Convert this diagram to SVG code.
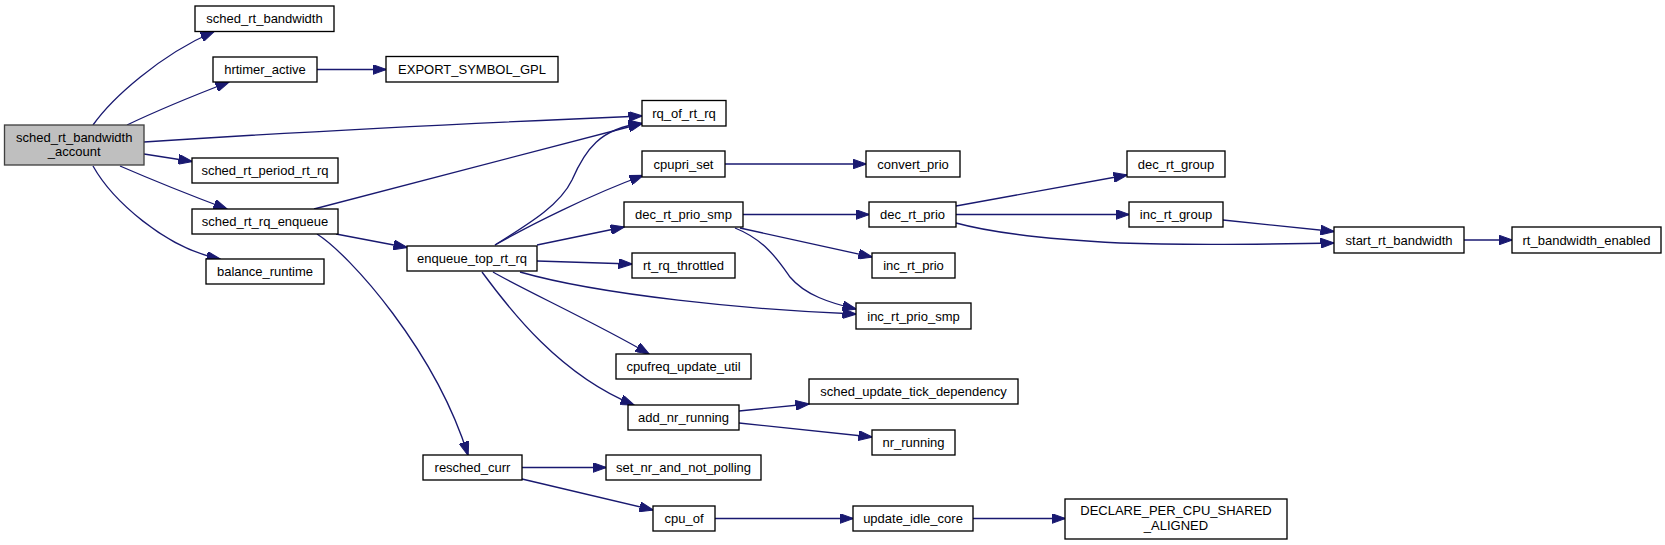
<svg xmlns="http://www.w3.org/2000/svg" width="1665" height="545" viewBox="0 0 1665 545">
<style>
.n rect{fill:#ffffff;stroke:#000000;stroke-width:1.33}
.root rect{fill:#bfbfbf;stroke:#404040;stroke-width:1.33}
text{font-family:"Liberation Sans",Arial,Helvetica,sans-serif;font-size:13px;text-anchor:middle;fill:#000000}
#edges path{fill:none;stroke:#191970;stroke-width:1.33;marker-end:url(#arr)}
</style>
<defs>
<marker id="arr" markerUnits="userSpaceOnUse" markerWidth="14" markerHeight="10" refX="13.5" refY="5" orient="auto">
<path d="M0,0 L14,5 L0,10 z" fill="#191970" stroke="#191970" stroke-width="1"/>
</marker>
</defs>
<rect x="0" y="0" width="1665" height="545" fill="#ffffff"/>
<g id="edges">
<path d="M93,125 C112,98 160,55 214,31.5"/>
<path d="M127,125 C150,114 190,97 229,82"/>
<path d="M144,142 C250,135 450,124 642,116"/>
<path d="M144,154 L192,161.5"/>
<path d="M120,166 C150,179 195,197 227,209"/>
<path d="M93,166 C112,200 165,248 220,259"/>
<path d="M317,69.5 L386,69.5"/>
<path d="M314,209 L642,123.5"/>
<path d="M336,234 L407,247.5"/>
<path d="M317,234 C350,255 435,350 468,455"/>
<path d="M495,245 C530,223 560,205 572,180 C585,150 600,128 642,123.5"/>
<path d="M495,245 C530,225 590,195 643,175.5"/>
<path d="M537,245 L624,227"/>
<path d="M537,261 L632,264"/>
<path d="M520,272 C600,295 750,310 856,314"/>
<path d="M493,272 C520,288 600,325 649,354"/>
<path d="M482,272 C510,310 560,375 634,405"/>
<path d="M725,164 L866,164"/>
<path d="M743,214.5 L869,214.5"/>
<path d="M740,228 L872,257"/>
<path d="M735,228 C765,240 778,260 790,277 C805,295 830,303 856,309"/>
<path d="M956,206 L1127,175"/>
<path d="M956,214.5 L1129,214.5"/>
<path d="M956,223 C1000,235 1060,240 1120,243 C1200,246 1270,244 1334,243"/>
<path d="M1223,220 L1334,231.5"/>
<path d="M1464,240 L1512,240"/>
<path d="M739,411 L809,404"/>
<path d="M739,423 L872,437"/>
<path d="M522,467.5 L606,467.5"/>
<path d="M522,479 L653,510"/>
<path d="M715,518.5 L853,518.5"/>
<path d="M973,518.5 L1065,518.5"/>
</g>
<g id="sched_rt_bandwidth_account" class="root"><rect x="4.5" y="125" width="139.5" height="40"/><text x="74.25" y="141.5">sched_rt_bandwidth</text><text x="74.25" y="156">_account</text></g>
<g id="sched_rt_bandwidth" class="n"><rect x="195" y="6" width="139" height="25.5"/><text x="264.5" y="23.25">sched_rt_bandwidth</text></g>
<g id="hrtimer_active" class="n"><rect x="213" y="57" width="104" height="25"/><text x="265" y="74">hrtimer_active</text></g>
<g id="EXPORT_SYMBOL_GPL" class="n"><rect x="386" y="56.5" width="172" height="25.5"/><text x="472" y="73.5">EXPORT_SYMBOL_GPL</text></g>
<g id="rq_of_rt_rq" class="n"><rect x="642" y="100.5" width="84" height="25.5"/><text x="684" y="117.5">rq_of_rt_rq</text></g>
<g id="sched_rt_period_rt_rq" class="n"><rect x="192" y="158" width="146" height="25"/><text x="265" y="175">sched_rt_period_rt_rq</text></g>
<g id="cpupri_set" class="n"><rect x="642" y="151" width="83" height="26"/><text x="683.5" y="168.5">cpupri_set</text></g>
<g id="convert_prio" class="n"><rect x="866" y="151" width="94" height="26"/><text x="913" y="168.5">convert_prio</text></g>
<g id="dec_rt_group" class="n"><rect x="1127" y="151" width="98" height="26"/><text x="1176" y="168.5">dec_rt_group</text></g>
<g id="sched_rt_rq_enqueue" class="n"><rect x="192" y="209" width="146" height="25"/><text x="265" y="226">sched_rt_rq_enqueue</text></g>
<g id="dec_rt_prio_smp" class="n"><rect x="624" y="202" width="119" height="25"/><text x="683.5" y="219">dec_rt_prio_smp</text></g>
<g id="dec_rt_prio" class="n"><rect x="869" y="202" width="87" height="25"/><text x="912.5" y="219">dec_rt_prio</text></g>
<g id="inc_rt_group" class="n"><rect x="1129" y="202" width="94" height="25"/><text x="1176" y="219">inc_rt_group</text></g>
<g id="start_rt_bandwidth" class="n"><rect x="1334" y="227" width="130" height="26"/><text x="1399" y="244.5">start_rt_bandwidth</text></g>
<g id="rt_bandwidth_enabled" class="n"><rect x="1512" y="227" width="149" height="26"/><text x="1586.5" y="244.5">rt_bandwidth_enabled</text></g>
<g id="enqueue_top_rt_rq" class="n"><rect x="407" y="246" width="130" height="25"/><text x="472" y="263">enqueue_top_rt_rq</text></g>
<g id="rt_rq_throttled" class="n"><rect x="632" y="253" width="103" height="25"/><text x="683.5" y="270">rt_rq_throttled</text></g>
<g id="inc_rt_prio" class="n"><rect x="872" y="253" width="83" height="25"/><text x="913.5" y="270">inc_rt_prio</text></g>
<g id="balance_runtime" class="n"><rect x="206" y="259" width="118" height="25"/><text x="265" y="276">balance_runtime</text></g>
<g id="inc_rt_prio_smp" class="n"><rect x="856" y="303" width="115" height="26"/><text x="913.5" y="320.5">inc_rt_prio_smp</text></g>
<g id="cpufreq_update_util" class="n"><rect x="616" y="354" width="135" height="25"/><text x="683.5" y="371">cpufreq_update_util</text></g>
<g id="sched_update_tick_dependency" class="n"><rect x="809" y="379" width="209" height="25"/><text x="913.5" y="396">sched_update_tick_dependency</text></g>
<g id="add_nr_running" class="n"><rect x="628" y="405" width="111" height="25"/><text x="683.5" y="422">add_nr_running</text></g>
<g id="nr_running" class="n"><rect x="872" y="430" width="83" height="25"/><text x="913.5" y="447">nr_running</text></g>
<g id="resched_curr" class="n"><rect x="423" y="455" width="99" height="25"/><text x="472.5" y="472">resched_curr</text></g>
<g id="set_nr_and_not_polling" class="n"><rect x="606" y="455" width="155" height="25"/><text x="683.5" y="472">set_nr_and_not_polling</text></g>
<g id="cpu_of" class="n"><rect x="653" y="506" width="62" height="25"/><text x="684" y="523">cpu_of</text></g>
<g id="update_idle_core" class="n"><rect x="853" y="506" width="120" height="25"/><text x="913" y="523">update_idle_core</text></g>
<g id="DECLARE_PER_CPU_SHARED_ALIGNED" class="n"><rect x="1065" y="499" width="222" height="40"/><text x="1176" y="515">DECLARE_PER_CPU_SHARED</text><text x="1176" y="529.5">_ALIGNED</text></g>
</svg>
